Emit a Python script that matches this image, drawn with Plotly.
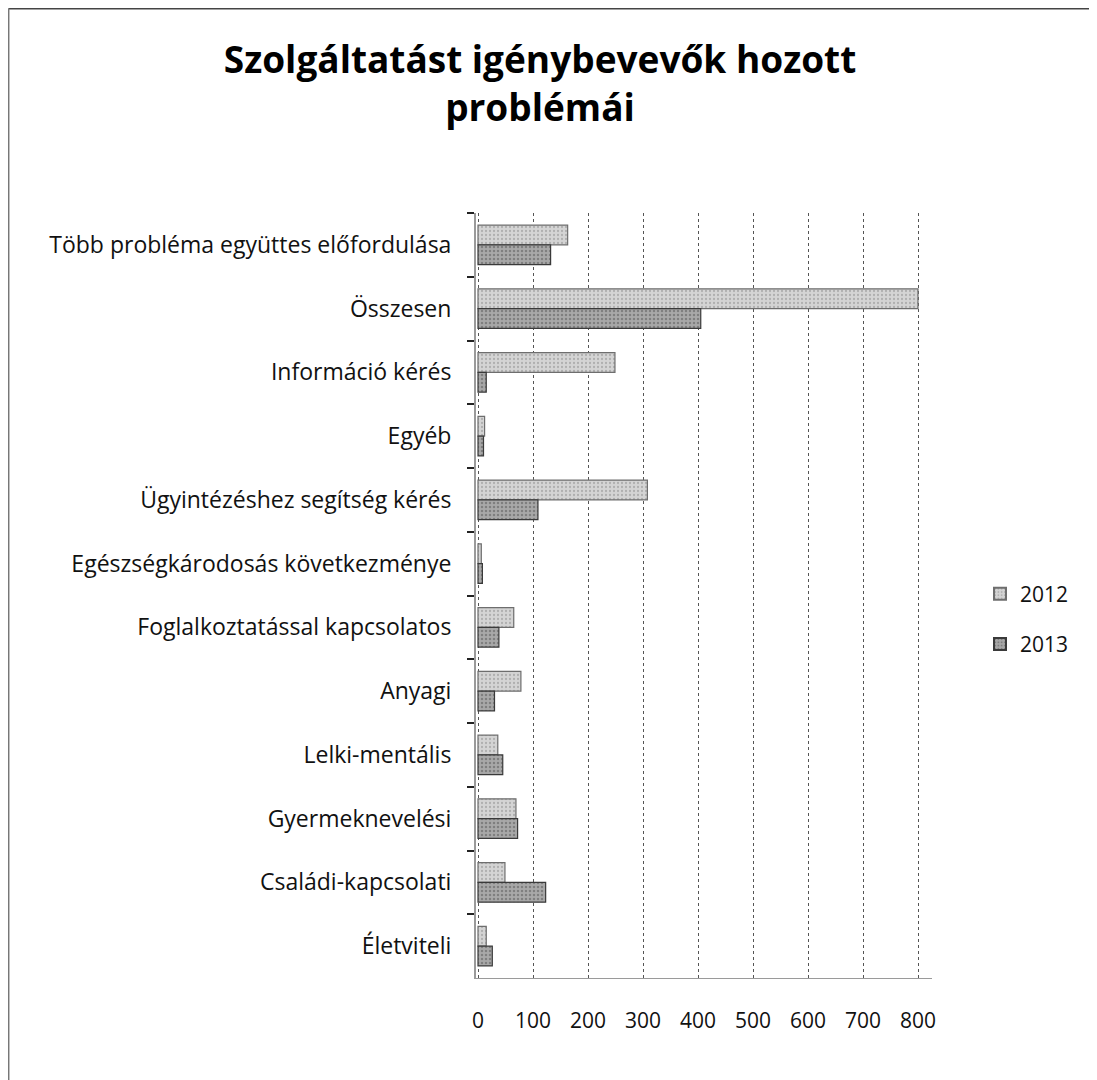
import plotly.graph_objects as go

categories = [
    "Több probléma együttes előfordulása",
    "Összesen",
    "Információ kérés",
    "Egyéb",
    "Ügyintézéshez segítség kérés",
    "Egészségkárodosás következménye",
    "Foglalkoztatással kapcsolatos",
    "Anyagi",
    "Lelki-mentális",
    "Gyermeknevelési",
    "Családi-kapcsolati",
    "Életviteli",
]
values_2012 = [163, 800, 249, 12, 308, 6, 65, 78, 36, 69, 49, 15]
values_2013 = [132, 405, 15, 10, 109, 8, 38, 30, 45, 72, 123, 26]
x_ticks = [0, 100, 200, 300, 400, 500, 600, 700, 800]

# page body has an 8px margin; work in reference pixel coords and shift
OFF = 8
W, H = 1097 - OFF, 1080 - OFF
# reference plot box: left 476, right 932, top 213, bottom 978
L = 476 - OFF
T = 213 - OFF
R = W - (932 - OFF)
B = H - (978 - OFF)
pw, ph = W - L - R, H - T - B
px_per_unit = 0.55
x0_ref = 478

fig = go.Figure()
fig.add_trace(go.Bar(
    y=categories, x=values_2012, orientation="h", name="2012", legendgroup="a",
    marker=dict(color="#d4d4d4", line=dict(color="#6e6e6e", width=1.2),
                pattern=dict(shape=".", fgcolor="#8a8a8a", size=4, solidity=0.25)),
))
fig.add_trace(go.Bar(
    y=categories, x=values_2013, orientation="h", name="2013", legendgroup="b",
    marker=dict(color="#a8a8a8", line=dict(color="#3a3a3a", width=1.2),
                pattern=dict(shape=".", fgcolor="#555555", size=4, solidity=0.3)),
))

font_family = "'Open Sans', Lato, sans-serif"

def px_x(x):
    return (x - OFF - L) / pw

def px_y(y):
    return (H - B - (y - OFF)) / ph

x_lo = -(x0_ref - 476) / px_per_unit
x_hi = (932 - x0_ref) / px_per_unit

fig.update_layout(
    width=W, height=H,
    margin=dict(l=L, r=R, t=T, b=B, autoexpand=False),
    paper_bgcolor="white", plot_bgcolor="white",
    barmode="group", bargap=0.38, bargroupgap=0.0,
    font=dict(family=font_family, size=18, color="#111111"),
    title=dict(
        text="<b>Szolgáltatást igénybevevők hozott<br>problémái</b>",
        x=(540 - OFF) / W, xanchor="center", y=1 - (73 - OFF) / H, yanchor="middle",
        font=dict(family=font_family, size=37, color="#000000"),
    ),
    showlegend=True,
    legend=dict(x=px_x(980), y=px_y(619), xanchor="left", yanchor="middle",
                font=dict(size=21), bgcolor="rgba(0,0,0,0)", tracegroupgap=20,
                itemsizing="constant"),
    xaxis=dict(
        range=[x_lo, x_hi], tickvals=x_ticks, ticktext=[str(v) for v in x_ticks],
        showgrid=True, gridcolor="#555555", griddash="dot", gridwidth=1,
        zeroline=False, showline=True, linecolor="#9a9a9a", linewidth=1,
        ticks="", tickfont=dict(size=21), ticklabelstandoff=24, automargin=False,
    ),
    yaxis=dict(
        autorange="reversed", showgrid=False, showline=True, linecolor="#9a9a9a",
        linewidth=2, ticks="outside", ticklen=7, tickwidth=2, tickcolor="#222222",
        tickson="boundaries", tickfont=dict(size=23), ticklabelstandoff=18,
        automargin=False,
    ),
    shapes=[
        dict(type="line", xref="paper", yref="paper", x0=px_x(8.5), x1=px_x(1092),
             y0=px_y(8.7), y1=px_y(8.7), line=dict(color="#444444", width=1.5)),
        dict(type="line", xref="paper", yref="paper", x0=px_x(8.7), x1=px_x(8.7),
             y0=px_y(8.5), y1=px_y(1080), line=dict(color="#777777", width=1.5)),
        dict(type="line", xref="paper", yref="paper", x0=px_x(1092), x1=px_x(1092),
             y0=px_y(8.5), y1=px_y(1080), line=dict(color="#777777", width=1)),
    ],
)

fig.write_html("out.html")
